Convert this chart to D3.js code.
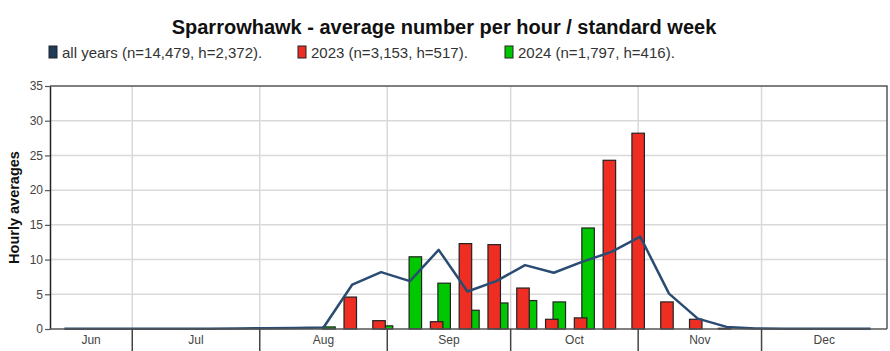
<!DOCTYPE html>
<html>
<head>
<meta charset="utf-8">
<script src="https://cdn.jsdelivr.net/npm/d3@7/dist/d3.min.js"></script>
<style>
	body { margin: 0; background: #fff; }
	svg { font-family: "Liberation Sans", Arial, sans-serif; }
</style>
</head>
<body>
<div id="chart"></div>
<script>
"use strict";

// standard weeks shown on the chart
const weeks = [24, 25, 26, 27, 28, 29, 30, 31, 32, 33, 34, 35, 36, 37, 38, 39, 40, 41, 42, 43, 44, 45, 46, 47, 48, 49, 50, 51, 52];

// all years average (line)
const allYears = [0.02, 0.02, 0.03, 0.03, 0.04, 0.05, 0.08, 0.12, 0.15, 0.22, 6.4, 8.2, 6.9, 11.4, 5.4, 6.9, 9.2, 8.1, 9.7, 11.1, 13.3, 5.1, 1.5, 0.3, 0.08, 0.05, 0.04, 0.03, 0.03];
// 2023 (red bars)
const year2023 = [0, 0, 0, 0, 0, 0, 0, 0, 0, 0, 4.6, 1.2, 0, 1.05, 12.3, 12.15, 5.9, 1.4, 1.6, 24.3, 28.2, 3.9, 1.4, 0.1, 0, 0, 0, 0, 0];
// 2024 (green bars)
const year2024 = [0, 0, 0, 0, 0, 0, 0, 0, 0, 0.3, 0, 0.45, 10.4, 6.6, 2.7, 3.75, 4.1, 3.9, 14.55, 0, 0, 0, 0, 0, 0, 0, 0, 0, 0];

const monthNames = ["Jun", "Jul", "Aug", "Sep", "Oct", "Nov", "Dec"];
const monthStartDays = [151, 181, 212, 243, 273, 304, 334, 365]; // day of year (0 based)

const legendItems = [
	{ label: "all years (n=14,479, h=2,372).", color: "#1f3b5c" },
	{ label: "2023 (n=3,153, h=517).", color: "#ee2e22" },
	{ label: "2024 (n=1,797, h=416).", color: "#00c800" }
];

const yTicks = [0, 5, 10, 15, 20, 25, 30, 35];

const width = 890, height = 351;
const margin = { top: 86, right: 3, bottom: 22, left: 50 };
const plotW = width - margin.left - margin.right;
const plotH = height - margin.top - margin.bottom;

const svg = d3.select("#chart").append("svg")
	.attr("width", width)
	.attr("height", height);

// x is day of year, weeks are placed on their centre
const x = d3.scaleLinear().domain([161, 364.5]).range([margin.left, margin.left + plotW]);
const y = d3.scaleLinear().domain([0, 35]).range([margin.top + plotH, margin.top]);
const weekCentre = w => x((w - 1) * 7 + 3.5);

// title
svg.append("text")
	.attr("x", 444).attr("y", 34)
	.attr("text-anchor", "middle")
	.style("font-size", "20px").style("font-weight", "bold").style("fill", "#111")
	.text("Sparrowhawk - average number per hour / standard week");

// legend
const legendX = [49, 298, 505];
legendItems.forEach((item, i) => {
	const g = svg.append("g").attr("transform", `translate(${legendX[i]},46)`);
	g.append("rect").attr("width", 8).attr("height", 12)
		.style("fill", item.color).style("stroke", "#222").style("stroke-width", 1);
	g.append("text").attr("x", 13).attr("y", 11.5)
		.style("font-size", "15px").style("fill", "#333")
		.text(item.label);
});

// horizontal grid
svg.append("g").selectAll("line")
	.data(yTicks.slice(1, -1))
	.join("line")
	.attr("x1", margin.left).attr("x2", margin.left + plotW)
	.attr("y1", d => y(d)).attr("y2", d => y(d))
	.style("stroke", "#d9d9d9").style("stroke-width", 1.5);

// vertical month grid
const inner = monthStartDays.filter(d => d > x.domain()[0] && d < x.domain()[1]);
svg.append("g").selectAll("line")
	.data(inner)
	.join("line")
	.attr("x1", d => x(d)).attr("x2", d => x(d))
	.attr("y1", margin.top).attr("y2", margin.top + plotH)
	.style("stroke", "#d9d9d9").style("stroke-width", 1.5);

// frame top and right
svg.append("path")
	.attr("d", `M${margin.left},${margin.top}H${margin.left + plotW}V${margin.top + plotH}`)
	.style("fill", "none").style("stroke", "#555").style("stroke-width", 1.5);

// bars, green behind red
const barW = 12.5;
svg.append("g").selectAll("rect")
	.data(weeks.map((w, i) => ({ w, v: year2024[i] })).filter(d => d.v > 0))
	.join("rect")
	.attr("x", d => weekCentre(d.w) - 0.8)
	.attr("y", d => y(d.v))
	.attr("width", barW)
	.attr("height", d => y(0) - y(d.v))
	.style("fill", "#00c800").style("stroke", "#222").style("stroke-width", 1.2);

svg.append("g").selectAll("rect")
	.data(weeks.map((w, i) => ({ w, v: year2023[i] })).filter(d => d.v > 0))
	.join("rect")
	.attr("x", d => weekCentre(d.w) - 8.3)
	.attr("y", d => y(d.v))
	.attr("width", barW)
	.attr("height", d => y(0) - y(d.v))
	.style("fill", "#ee2e22").style("stroke", "#222").style("stroke-width", 1.2);

// all years line
const line = d3.line()
	.x((d, i) => weekCentre(weeks[i]))
	.y(d => y(d));
svg.append("path")
	.datum(allYears)
	.attr("d", line)
	.style("fill", "none").style("stroke", "#2b4c72").style("stroke-width", 2.5)
	.style("stroke-linejoin", "round");

// y axis
const yAxis = svg.append("g")
	.attr("transform", `translate(${margin.left},0)`)
	.call(d3.axisLeft(y).tickValues(yTicks).tickSize(5).tickSizeOuter(0));
yAxis.select(".domain").style("stroke", "#222").style("stroke-width", 1.5);
yAxis.selectAll(".tick line").style("stroke", "#555").style("stroke-width", 1.2);
yAxis.selectAll("text").style("font-size", "12px").style("fill", "#444")
	.style("font-family", "Liberation Sans, Arial, sans-serif").attr("x", -7);

svg.append("text")
	.attr("transform", `translate(19,${margin.top + plotH / 2}) rotate(-90)`)
	.attr("text-anchor", "middle")
	.style("font-size", "14.5px").style("font-weight", "bold").style("fill", "#111")
	.text("Hourly averages");

// x axis: baseline, month separators and labels
svg.append("line")
	.attr("x1", margin.left).attr("x2", margin.left + plotW)
	.attr("y1", y(0)).attr("y2", y(0))
	.style("stroke", "#555").style("stroke-width", 1.5);

svg.append("g").selectAll("line")
	.data(inner)
	.join("line")
	.attr("x1", d => x(d)).attr("x2", d => x(d))
	.attr("y1", y(0)).attr("y2", height)
	.style("stroke", "#444").style("stroke-width", 1.5);

svg.append("g").selectAll("text")
	.data(monthNames)
	.join("text")
	.attr("x", (d, i) => {
		const a = Math.max(monthStartDays[i], x.domain()[0]);
		const b = Math.min(monthStartDays[i + 1], x.domain()[1]);
		return x((a + b) / 2);
	})
	.attr("y", 344)
	.attr("text-anchor", "middle")
	.style("font-size", "12px").style("fill", "#444")
	.text(d => d);
</script>
</body>
</html>
